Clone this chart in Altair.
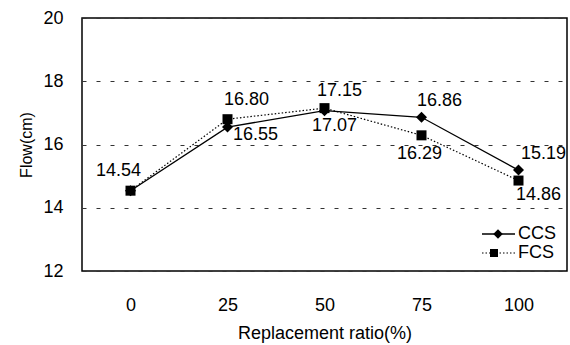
import altair as alt
import pandas as pd

ratios = [0, 25, 50, 75, 100]
ccs = [14.54, 16.55, 17.07, 16.86, 15.19]
fcs = [14.54, 16.80, 17.15, 16.29, 14.86]
series_names = ["CCS", "FCS"]
y_ticks = [12, 14, 16, 18, 20]

rows = []
for r, c, f in zip(ratios, ccs, fcs):
    rows.append({"ratio": r, "flow": c, "series": "CCS", "label": f"{c:.2f}"})
    rows.append({"ratio": r, "flow": f, "series": "FCS", "label": f"{f:.2f}"})
df = pd.DataFrame(rows)
legend_df = pd.DataFrame({"series": series_names})

FONT = "Liberation Sans"

# label placement (style only)
offsets = {
    ("CCS", 0): (-12, -20),
    ("CCS", 25): (28, 8),
    ("FCS", 25): (19, -19),
    ("CCS", 50): (10, 15),
    ("FCS", 50): (15, -17),
    ("CCS", 75): (18, -16),
    ("FCS", 75): (-2, 19),
    ("CCS", 100): (25, -16),
    ("FCS", 100): (20, 14),
}

x_enc = alt.X(
    "ratio:Q",
    scale=alt.Scale(domain=[-12.5, 112.5], nice=False, zero=False),
    axis=alt.Axis(
        values=ratios, title="Replacement ratio(%)", grid=False, ticks=False,
        domain=False, labelFontSize=18, labelFont=FONT, labelPadding=25,
        titleFontSize=18, titleFont=FONT, titleFontWeight="normal",
        titlePadding=10, labelColor="black", titleColor="black",
    ),
)
y_enc = alt.Y(
    "flow:Q",
    scale=alt.Scale(domain=[12, 20], nice=False, zero=False),
    axis=alt.Axis(
        values=y_ticks, title="Flow(cm)", grid=True, gridDash=[4, 10],
        gridColor="#333333", gridWidth=1, ticks=False, domain=False,
        labelFontSize=18, labelFont=FONT, labelPadding=19,
        titleFontSize=16, titleFont=FONT, titleFontWeight="normal",
        titlePadding=8, labelColor="black", titleColor="black",
    ),
)

base = alt.Chart(df)

ccs_line = base.transform_filter(alt.datum.series == "CCS").mark_line(
    color="black", strokeWidth=1.3
).encode(x=x_enc, y=y_enc)
fcs_line = base.transform_filter(alt.datum.series == "FCS").mark_line(
    color="black", strokeWidth=1.2, strokeDash=[1.5, 2]
).encode(x=x_enc, y=y_enc)
ccs_pts = base.transform_filter(alt.datum.series == "CCS").mark_point(
    shape="diamond", filled=True, color="black", size=121, opacity=1
).encode(x=x_enc, y=y_enc)
fcs_pts = base.transform_filter(alt.datum.series == "FCS").mark_point(
    shape="square", filled=True, color="black", size=100, opacity=1
).encode(x=x_enc, y=y_enc)

layers = [fcs_line, ccs_line, fcs_pts, ccs_pts]

for (s, r), (dx, dy) in offsets.items():
    layers.append(
        base.transform_filter((alt.datum.series == s) & (alt.datum.ratio == r))
        .mark_text(font=FONT, fontSize=18, color="black", dx=dx, dy=dy,
                   align="center", baseline="middle")
        .encode(x=x_enc, y=y_enc, text="label:N")
    )

# legend (inside plot, bottom right)
lg = alt.Chart(legend_df)
leg_rows = {"CCS": 216, "FCS": 235}
for s in series_names:
    yv = leg_rows[s]
    sel = lg.transform_filter(alt.datum.series == s)
    if s == "CCS":
        layers.append(sel.mark_rule(color="black", strokeWidth=1.3).encode(
            x=alt.value(400), x2=alt.value(433), y=alt.value(yv)))
        layers.append(sel.mark_point(shape="diamond", filled=True, color="black",
                                     size=90, opacity=1).encode(
            x=alt.value(416), y=alt.value(yv)))
    else:
        layers.append(sel.mark_rule(color="black", strokeWidth=1.2,
                                    strokeDash=[1.5, 2]).encode(
            x=alt.value(400), x2=alt.value(433), y=alt.value(yv)))
        layers.append(sel.mark_point(shape="square", filled=True, color="black",
                                     size=64, opacity=1).encode(
            x=alt.value(412), y=alt.value(yv)))
    layers.append(sel.mark_text(font=FONT, fontSize=18, color="black",
                                align="left", baseline="middle").encode(
        x=alt.value(436), y=alt.value(yv), text="series:N"))

chart = alt.layer(*layers).properties(
    width=485, height=253,
    autosize=alt.AutoSizeParams(type="none"),
    padding={"left": 82, "top": 18, "right": 3, "bottom": 74},
    background="white",
).configure_view(stroke="black", strokeWidth=1.5)

chart.save("out.html", embed_options={"renderer": "svg", "actions": False})
